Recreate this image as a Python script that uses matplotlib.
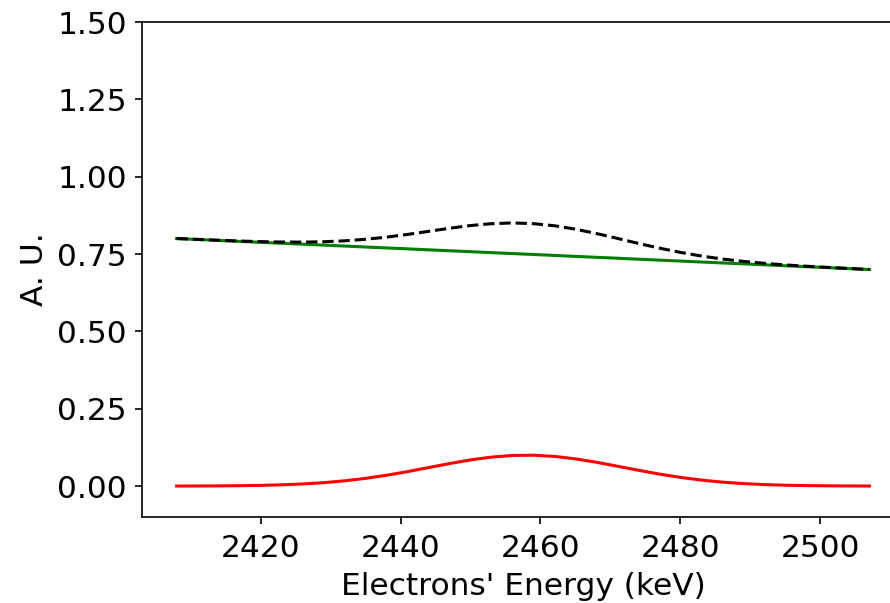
import matplotlib
matplotlib.use('Agg')
import matplotlib.pyplot as plt

#-----Spectrum values (keV, A. U.)
energy = [2408, 2411, 2414, 2417, 2420, 2423, 2426, 2429, 2432, 2435, 2438, 2441,
          2444, 2447, 2450, 2453, 2456, 2459, 2462, 2465, 2468, 2471, 2474, 2477,
          2480, 2483, 2486, 2489, 2492, 2495, 2498, 2501, 2504, 2507]
# peak contribution
peak = [0.0001, 0.0003, 0.0006, 0.0012, 0.0022, 0.0040, 0.0068, 0.0109, 0.0169, 0.0249,
        0.0349, 0.0467, 0.0597, 0.0727, 0.0845, 0.0936, 0.0990, 0.0997, 0.0959, 0.0879,
        0.0769, 0.0641, 0.0510, 0.0387, 0.0280, 0.0193, 0.0127, 0.0080, 0.0048, 0.0027,
        0.0015, 0.0008, 0.0004, 0.0002]
# linear background
background = [0.8000, 0.7970, 0.7939, 0.7909, 0.7879, 0.7848, 0.7818, 0.7788, 0.7758, 0.7727,
              0.7697, 0.7667, 0.7636, 0.7606, 0.7576, 0.7545, 0.7515, 0.7485, 0.7455, 0.7424,
              0.7394, 0.7364, 0.7333, 0.7303, 0.7273, 0.7242, 0.7212, 0.7182, 0.7152, 0.7121,
              0.7091, 0.7061, 0.7030, 0.7000]
# total (background + peak)
total = [0.8001, 0.7973, 0.7945, 0.7921, 0.7901, 0.7888, 0.7886, 0.7897, 0.7927, 0.7976,
         0.8046, 0.8134, 0.8233, 0.8333, 0.8421, 0.8481, 0.8505, 0.8482, 0.8414, 0.8303,
         0.8163, 0.8005, 0.7843, 0.7690, 0.7553, 0.7435, 0.7339, 0.7262, 0.7200, 0.7148,
         0.7106, 0.7069, 0.7034, 0.7002]

#-----Figure
fig = plt.figure(figsize=(8.9, 6.03), dpi=100)
ax = fig.add_axes([142/890, 86/603, 762/890, 495/603])

ax.plot(energy, peak, color='r', lw=2.2)
ax.plot(energy, background, color='g', lw=2.2)
ax.plot(energy, total, color='k', lw=2.2, ls='--')

ax.set_ylim(-0.1, 1.5)
ax.set_yticks([0.0, 0.25, 0.5, 0.75, 1.0, 1.25, 1.5])
ax.set_xticks([2420, 2440, 2460, 2480, 2500])
ax.set_xlabel("Electrons' Energy (keV)", fontsize=22.5, labelpad=6.5)
ax.set_ylabel('A. U.', fontsize=22.5, labelpad=6)
ax.tick_params(labelsize=22.5, length=5, width=1.2)
ax.tick_params(axis='x', pad=7)
ax.tick_params(axis='y', pad=6)
for s in ax.spines.values():
    s.set_linewidth(1.2)

fig.savefig('out.png', dpi=100)
